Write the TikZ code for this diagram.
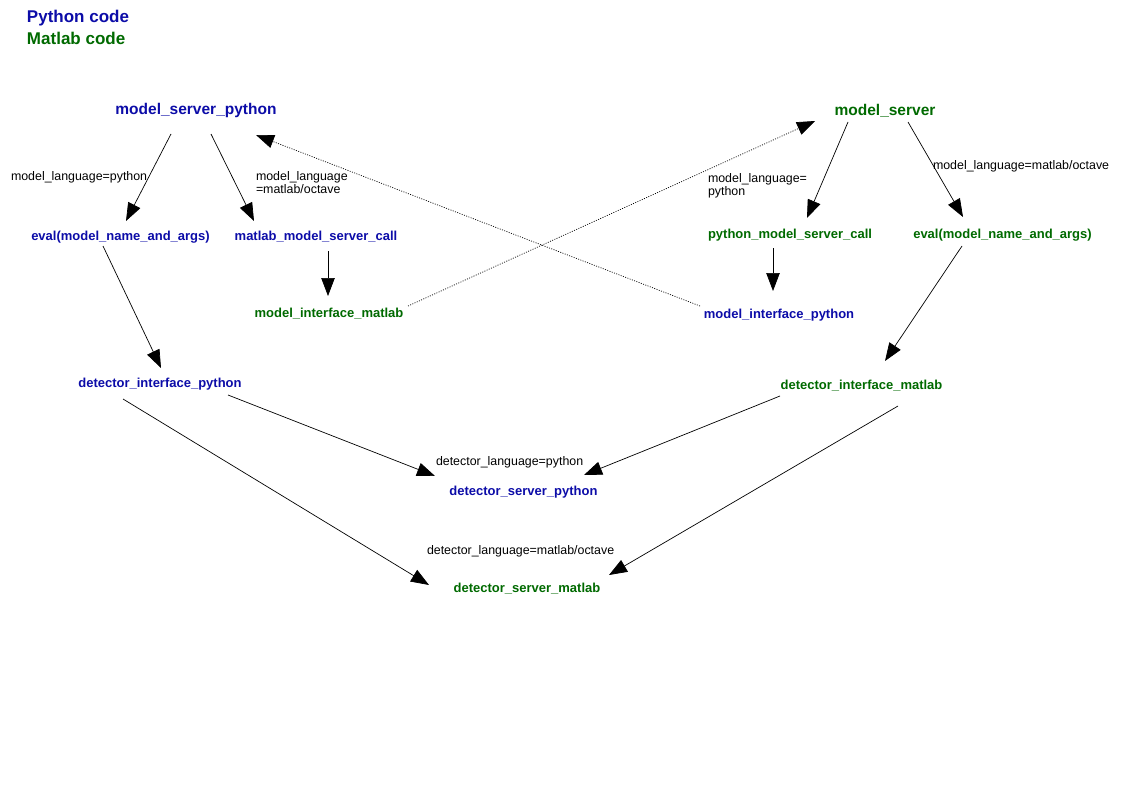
\documentclass[tikz,border=0pt]{standalone}
\usepackage{fontspec}
\setmainfont{Liberation Sans}
\usetikzlibrary{arrows.meta,calc}
\definecolor{pyblue}{HTML}{0C0CA8}
\definecolor{mlgreen}{HTML}{006A00}
\begin{document}
\begin{tikzpicture}[x=1pt,y=-1pt,
  every node/.style={inner sep=0pt,outer sep=0pt},
  pynode/.style={text=pyblue,font=\fontsize{13}{15}\selectfont\bfseries},
  mlnode/.style={text=mlgreen,font=\fontsize{13}{15}\selectfont\bfseries},
  bignode/.style={font=\fontsize{15.5}{18}\selectfont\bfseries},
  legend/.style={font=\fontsize{17}{20}\selectfont\bfseries,anchor=west},
  elabel/.style={font=\fontsize{12.4}{13}\selectfont,anchor=west,align=left,text=black},
  edge/.style={draw=black,line width=0.7pt,-{Triangle[length=18pt,width=13.5pt]}},
  dotedge/.style={edge,dash pattern=on 1pt off 1.4pt}]
\useasboundingbox (0,0) rectangle (1123,794);
\fill[white] (0,0) rectangle (1123,794);
% legend
\node[legend,text=pyblue] (legpy) at (27,18) {Python code};
\node[legend,text=mlgreen] (legml) at (27,38) {Matlab code};
% nodes
\node[pynode,bignode] (msp) at (196,110) {model\_server\_python};
\node[mlnode,bignode] (ms) at (885,111) {model\_server};
\node[pynode] (evpy) at (120.5,237) {eval(model\_name\_and\_args)};
\node[pynode] (mlcall) at (316,237) {matlab\_model\_server\_call};
\node[mlnode] (mim) at (329,314) {model\_interface\_matlab};
\node[mlnode] (pycall) at (790,235) {python\_model\_server\_call};
\node[mlnode] (evml) at (1002.5,235) {eval(model\_name\_and\_args)};
\node[pynode] (mip) at (779,315) {model\_interface\_python};
\node[pynode] (dip) at (160,384) {detector\_interface\_python};
\node[mlnode] (dim) at (861.5,386) {detector\_interface\_matlab};
\node[pynode] (dsp) at (523.5,492) {detector\_server\_python};
\node[mlnode] (dsm) at (527,589) {detector\_server\_matlab};
% edges
\draw[edge] ([shift={(-25,24)}]msp.center) -- ([shift={(5.5,-16)}]evpy.center);
\draw[edge] ([shift={(15,24)}]msp.center) -- ([shift={(-62,-16)}]mlcall.center);
\draw[edge] ([shift={(12,14)}]mlcall.center) -- ([shift={(-1,-18)}]mim.center);
\draw[dotedge] ([shift={(79,-8)}]mim.center) -- ([shift={(-70,10)}]ms.center);
\draw[dotedge] ([shift={(-79,-9)}]mip.center) -- ([shift={(60,25)}]msp.center);
\draw[edge] ([shift={(-37,11)}]ms.center) -- ([shift={(17,-17)}]pycall.center);
\draw[edge] ([shift={(23,11)}]ms.center) -- ([shift={(-39.5,-18)}]evml.center);
\draw[edge] ([shift={(-17,13)}]pycall.center) -- ([shift={(-6,-24)}]mip.center);
\draw[edge] ([shift={(-17.5,9)}]evpy.center) -- ([shift={(1,-16)}]dip.center);
\draw[edge] ([shift={(-40.5,11)}]evml.center) -- ([shift={(23.5,-25)}]dim.center);
\draw[edge] ([shift={(68,11)}]dip.center) -- ([shift={(-88.5,-16)}]dsp.center);
\draw[edge] ([shift={(-37,15)}]dip.center) -- ([shift={(-98,-4)}]dsm.center);
\draw[edge] ([shift={(-81.5,10)}]dim.center) -- ([shift={(60.5,-17)}]dsp.center);
\draw[edge] ([shift={(36.5,20)}]dim.center) -- ([shift={(82,-14)}]dsm.center);
% labels
\node[elabel] (l1) at (11,177) {model\_language=python};
\node[elabel] (l2) at (256,183) {model\_language\\=matlab/octave};
\node[elabel] (l3) at (708,186) {model\_language=\\python};
\node[elabel] (l4) at (933,166) {model\_language=matlab/octave};
\node[elabel] (l5) at (436,462) {detector\_language=python};
\node[elabel] (l6) at (427,551) {detector\_language=matlab/octave};
\end{tikzpicture}
\end{document}
